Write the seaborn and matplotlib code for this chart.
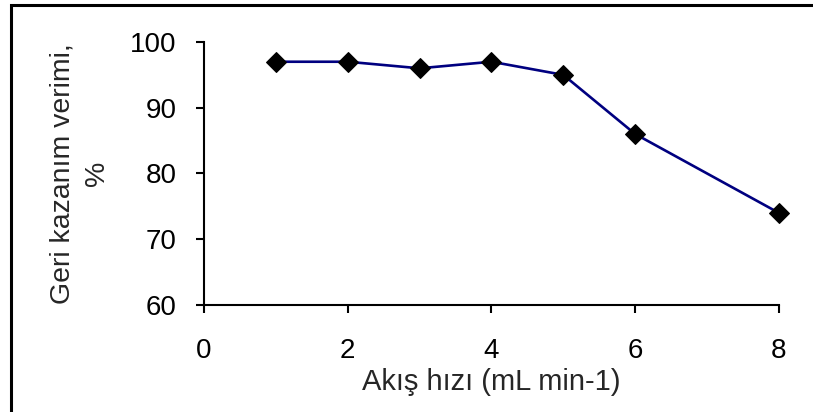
import numpy as np
import pandas as pd
import matplotlib
matplotlib.use("Agg")
import matplotlib.pyplot as plt
import seaborn as sns
from matplotlib.patches import Rectangle

# --- data ---
flow_rate = [1, 2, 3, 4, 5, 6, 8]
recovery = [97, 97, 96, 97, 95, 86, 74]
x_ticks = [0, 2, 4, 6, 8]
y_ticks = [60, 70, 80, 90, 100]

sns.set_style("white")
plt.rcParams['font.family'] = ['Liberation Sans', 'DejaVu Sans']

df = pd.DataFrame({"Akış hızı": flow_rate, "Geri kazanım": recovery})

fig = plt.figure(figsize=(8.13, 4.12), dpi=100)
ax = fig.add_axes([0.251, 0.26, 0.958 - 0.251, 0.898 - 0.26])

sns.lineplot(data=df, x="Akış hızı", y="Geri kazanım", ax=ax,
             color="#000080", lw=1.9, marker="D", markersize=10,
             markerfacecolor="black", markeredgecolor="black", clip_on=False)

ax.set_xlim(0, 8)
ax.set_ylim(60, 100)
ax.set_xticks(x_ticks)
ax.set_yticks(y_ticks)

for s in ["top", "right"]:
    ax.spines[s].set_visible(False)
for s in ["left", "bottom"]:
    ax.spines[s].set_color("black")
    ax.spines[s].set_linewidth(1.5)

ax.tick_params(axis="both", direction="out", length=6, width=1.5,
               color="black", labelsize=20, labelcolor="black",
               bottom=True, left=True)
ax.tick_params(axis="x", pad=18)
ax.tick_params(axis="y", pad=14)

ax.set_xlabel("Akış hızı (mL min-1)", fontsize=21, labelpad=3)
ax.set_ylabel("Geri kazanım verimi,\n%", fontsize=20.5, labelpad=14, linespacing=1.45)

# outer frame as in the reference
fig.patches.append(Rectangle((11 / 813, -0.05), 1.2, 1 - 5 / 412 + 0.05,
                             transform=fig.transFigure, fill=False,
                             edgecolor="black", lw=2.2))

fig.savefig("out.png", dpi=100, facecolor="white")
